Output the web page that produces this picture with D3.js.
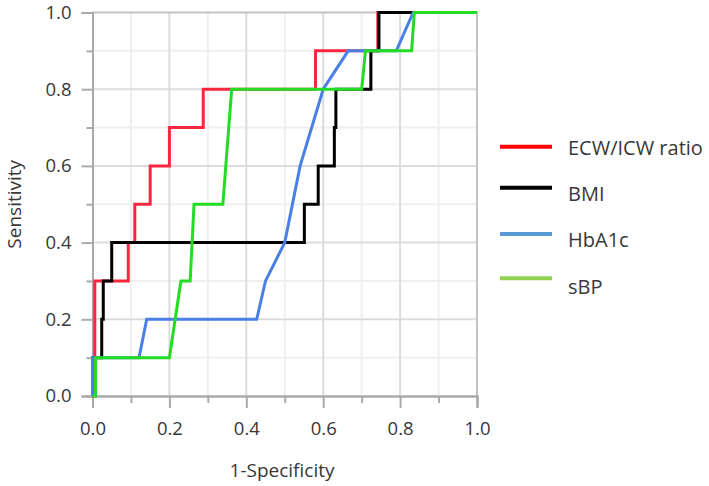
<!DOCTYPE html>
<html>
<head>
<meta charset="utf-8">
<script src="https://cdn.jsdelivr.net/npm/d3@7"></script>
<style>
  body { margin: 0; background: #fff; }
  text { font-family: 'Open Sans', 'Noto Sans', sans-serif; fill: #383838; }
</style>
</head>
<body>
<svg id="chart" width="709" height="486"></svg>
<script>
// ROC curves, points as [1-specificity, sensitivity]
const ecwIcw = [[0, 0], [0.006, 0], [0.006, 0.3], [0.093, 0.3], [0.093, 0.4], [0.11, 0.4], [0.11, 0.5],
  [0.15, 0.5], [0.15, 0.6], [0.2, 0.6], [0.2, 0.7], [0.288, 0.7], [0.288, 0.8], [0.58, 0.8],
  [0.58, 0.9], [0.742, 0.9], [0.742, 1.0], [1, 1]];
const bmi = [[0, 0], [0, 0.1], [0.024, 0.1], [0.024, 0.2], [0.028, 0.2], [0.028, 0.3], [0.05, 0.3],
  [0.05, 0.4], [0.551, 0.4], [0.551, 0.5], [0.587, 0.5], [0.587, 0.6], [0.629, 0.6], [0.629, 0.7],
  [0.633, 0.7], [0.633, 0.8], [0.724, 0.8], [0.724, 0.9], [0.745, 0.9], [0.745, 1.0], [1, 1]];
const hba1c = [[0, 0], [0, 0.1], [0.121, 0.1], [0.141, 0.2], [0.427, 0.2], [0.45, 0.3], [0.5, 0.4],
  [0.54, 0.6], [0.6, 0.8], [0.665, 0.9], [0.79, 0.9], [0.834, 1.0], [1, 1]];
const sbp = [[0, 0], [0.008, 0], [0.008, 0.1], [0.2, 0.1], [0.215, 0.2], [0.23, 0.3], [0.254, 0.3],
  [0.264, 0.5], [0.339, 0.5], [0.362, 0.8], [0.70, 0.8], [0.71, 0.9], [0.83, 0.9], [0.837, 1.0], [1, 1]];

const seriesNames = ['ECW/ICW ratio', 'BMI', 'HbA1c', 'sBP'];
const seriesData = [ecwIcw, bmi, hba1c, sbp];
const lineColors = ['#f5283f', '#000000', '#4a7fe6', '#22dd22'];
const legendColors = ['#ff0000', '#000000', '#5b9bd5', '#92d050'];
const majorTicks = [0, 0.2, 0.4, 0.6, 0.8, 1.0];
const minorTicks = [0.1, 0.3, 0.5, 0.7, 0.9];

const svg = d3.select('#chart');
const x = d3.scaleLinear().domain([0, 1]).range([92.5, 477]);
const y = d3.scaleLinear().domain([0, 1]).range([396, 12.5]);

// grid
const grid = svg.append('g');
grid.selectAll('.minor-v').data(minorTicks).join('line')
  .attr('x1', d => x(d)).attr('x2', d => x(d)).attr('y1', y(0)).attr('y2', y(1))
  .style('stroke', '#efefef').style('stroke-width', 2);
grid.selectAll('.minor-h').data(minorTicks).join('line')
  .attr('y1', d => y(d)).attr('y2', d => y(d)).attr('x1', x(0)).attr('x2', x(1))
  .style('stroke', '#efefef').style('stroke-width', 2);
grid.selectAll('.major-v').data(majorTicks.slice(1, -1)).join('line')
  .attr('x1', d => x(d)).attr('x2', d => x(d)).attr('y1', y(0)).attr('y2', y(1))
  .style('stroke', '#dcdcdc').style('stroke-width', 2);
grid.selectAll('.major-h').data(majorTicks.slice(1, -1)).join('line')
  .attr('y1', d => y(d)).attr('y2', d => y(d)).attr('x1', x(0)).attr('x2', x(1))
  .style('stroke', '#dcdcdc').style('stroke-width', 2);

// frame on top and right
svg.append('path')
  .attr('d', `M${x(0)},${y(1)}H${x(1)}V${y(0)}`)
  .style('fill', 'none').style('stroke', '#c4c4c4').style('stroke-width', 2);

// axes
const fmt = d3.format('.1f');
const xAxis = svg.append('g').attr('transform', `translate(0,${y(0)})`)
  .call(d3.axisBottom(x).tickValues(majorTicks).tickFormat(fmt).tickSize(12).tickPadding(14));
const xMinor = svg.append('g').attr('transform', `translate(0,${y(0)})`)
  .call(d3.axisBottom(x).tickValues(minorTicks).tickFormat('').tickSize(7));
const yAxis = svg.append('g').attr('transform', `translate(${x(0)},0)`)
  .call(d3.axisLeft(y).tickValues(majorTicks).tickFormat(fmt).tickSize(11).tickPadding(10));
const yMinor = svg.append('g').attr('transform', `translate(${x(0)},0)`)
  .call(d3.axisLeft(y).tickValues(minorTicks).tickFormat('').tickSize(6));

[xAxis, xMinor, yAxis, yMinor].forEach(g => {
  g.select('.domain').style('stroke', '#aaa').style('stroke-width', 2);
  g.selectAll('.tick line').style('stroke', '#aaa').style('stroke-width', 2);
  g.selectAll('.tick text').style('font-size', '18.5px')
    .style('font-family', "'Open Sans', sans-serif").style('fill', '#383838');
});

// curves
const line = d3.line().x(d => x(d[0])).y(d => y(d[1]));
svg.append('g').selectAll('path').data(seriesData).join('path')
  .attr('d', line)
  .style('fill', 'none')
  .style('stroke', (d, i) => lineColors[i])
  .style('stroke-width', 3)
  .style('stroke-linejoin', 'miter');

// axis titles
svg.append('text')
  .attr('x', 282).attr('y', 477)
  .style('text-anchor', 'middle').style('font-size', '19px')
  .text('1-Specificity');
svg.append('text')
  .attr('transform', `translate(21,${(y(0) + y(1)) / 2}) rotate(-90)`)
  .style('text-anchor', 'middle').style('font-size', '19px')
  .text('Sensitivity');

// legend
const legendLineY = [146.7, 187.7, 234, 278.3];
const legendTextY = [155, 201, 247.3, 294];
const legend = svg.append('g');
legend.selectAll('line').data(seriesNames).join('line')
  .attr('x1', 500).attr('x2', 552)
  .attr('y1', (d, i) => legendLineY[i]).attr('y2', (d, i) => legendLineY[i])
  .style('stroke', (d, i) => legendColors[i])
  .style('stroke-width', 4);
legend.selectAll('text').data(seriesNames).join('text')
  .attr('x', 568).attr('y', (d, i) => legendTextY[i])
  .style('font-size', '20px')
  .text(d => d);
</script>
</body>
</html>
